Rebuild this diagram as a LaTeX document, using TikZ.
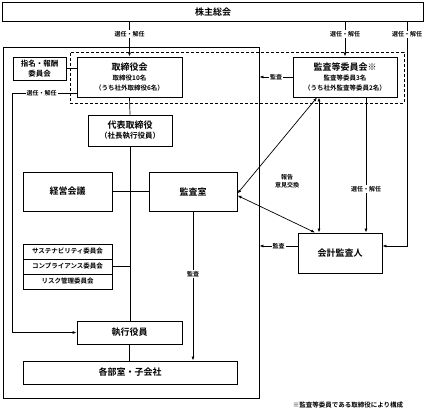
\documentclass[tikz,border=0pt]{standalone}
\usepackage{fontspec}
\setmainfont{Noto Sans CJK JP}[BoldFont={Noto Sans CJK JP Bold}]
\usetikzlibrary{positioning, calc, arrows.meta}
\newcommand\jsub{\fontsize{6.5}{8}\selectfont}
\newcommand\jmid{\fontsize{7.5}{9}\selectfont}
\tikzset{
  box/.style={draw, line width=0.9pt, align=center, inner sep=0pt, font=\bfseries\fontsize{9}{11}\selectfont},
  lbl/.style={fill=white, inner sep=1pt, font=\bfseries\fontsize{6}{7}\selectfont},
  arr/.style={-{Latex[length=4pt,width=3pt]}},
  darr/.style={{Latex[length=4pt,width=3pt]}-{Latex[length=4pt,width=3pt]}}
}

\begin{document}
\begin{tikzpicture}[x=1pt, y=-1pt, line width=0.7pt]
\useasboundingbox (0,0) rectangle (425,410);
\node (share) [box, minimum width=421pt, minimum height=19pt] at (213,12) {株主総会};
\node (company) [draw, line width=0.9pt, minimum width=256pt, minimum height=351pt] at (131,222.5) {};
\node (group) [draw, line width=0.9pt, dash pattern=on 3pt off 2pt, minimum width=334pt, minimum height=51pt] at (237,77.5) {};
\node (nom) [box, minimum width=53pt, minimum height=23pt] at (39.5,68.5) {\jmid\bfseries 指名・報酬\\[-1pt]\jmid\bfseries 委員会};
\node (board) [box, minimum width=105pt, minimum height=40pt] at (129.5,77) {取締役会\\[-1pt]\jsub\bfseries 取締役10名\\[-1pt]\jsub\bfseries （うち社外取締役6名）};
\node (auditcom) [box, minimum width=104pt, minimum height=40pt] at (345,77) {監査等委員会※\\[-1pt]\jsub\bfseries 監査等委員3名\\[-1pt]\jsub\bfseries （うち社外監査等委員2名）};
\node (ceo) [box, minimum width=84pt, minimum height=31pt] at (130,130.5) {代表取締役\\[-1pt]\jmid\bfseries （社長執行役員）};
\node (mgmt) [box, minimum width=89pt, minimum height=39pt] at (67.5,191.5) {経営会議};
\node (aoffice) [box, minimum width=88pt, minimum height=39pt] at (193,191.5) {監査室};
\node (com1) [box, minimum width=89pt, minimum height=15pt, font=\bfseries\jsub] at (67.5,251.5) {サステナビリティ委員会};
\node (com2) [box, minimum width=89pt, minimum height=15pt, font=\bfseries\jsub] at (67.5,266.5) {コンプライアンス委員会};
\node (com3) [box, minimum width=89pt, minimum height=15pt, font=\bfseries\jsub] at (67.5,281.5) {リスク管理委員会};
\node (officers) [box, minimum width=105pt, minimum height=23pt] at (129.5,332.5) {執行役員};
\node (depts) [box, minimum width=214pt, minimum height=23pt] at (130,372.5) {各部室・子会社};
\node (extaud) [box, minimum width=84pt, minimum height=40pt] at (340,253) {会計監査人};
\node (note) [font=\bfseries\jsub] at (348,405) {※監査等委員である取締役により構成};
\node (report) [align=center, font=\bfseries\fontsize{6}{8}\selectfont] at (287,181) {報告\\意見交換};

\coordinate (rx) at (407,0);
\coordinate (lx) at (12,0);
\coordinate (vx) at (319,0);
\coordinate (sx) at (366,0);
\coordinate (bw) at ($(board.west)+(0,16)$);
\coordinate (ea) at ($(extaud.east)+(0,-7)$);
\coordinate (ew) at ($(extaud.west)+(0,-7)$);

\draw [arr] (share.south -| board.north) -- node[lbl, pos=0.35] {選任・解任} (board.north);
\draw [arr] (share.south -| auditcom.north) -- node[lbl, pos=0.35] {選任・解任} (auditcom.north);
\draw [arr] (share.south -| rx) -- node[lbl, pos=0.056] {選任・解任} (rx |- ea) -- (ea);
\draw [arr] (auditcom.west) -- node[lbl] {監査} (auditcom.west -| company.east);
\draw (nom.east) -- (nom.east -| board.west);
\draw [arr] (bw) -- node[lbl, pos=0.54] {選任・解任} (bw -| lx) |- (officers.west);
\draw (board.south) -- (ceo.north);
\draw (ceo.south) -- (officers.north -| ceo.south);
\draw (mgmt.east) -- (aoffice.west);
\draw (com2.east) -- (com2.east -| ceo.south);
\draw [arr] (aoffice.south) -- node[lbl, pos=0.42] {監査} (aoffice.south |- depts.north);
\draw (officers.south) -- (depts.north -| officers.south);
\draw [darr] ($(aoffice.east)+(0,2)$) -- ($(auditcom.south)+(-28,0)$);
\draw [darr] ($(aoffice.east)+(0,4)$) -- ($(extaud.north)+(-25,0)$);
\draw [darr] (vx |- auditcom.south) -- (vx |- extaud.north);
\draw [arr] (sx |- auditcom.south) -- node[lbl, pos=0.68] {選任・解任} (sx |- extaud.north);
\draw [arr] (ew) -- node[lbl] {監査} (ew -| company.east);
\end{tikzpicture}
\end{document}
